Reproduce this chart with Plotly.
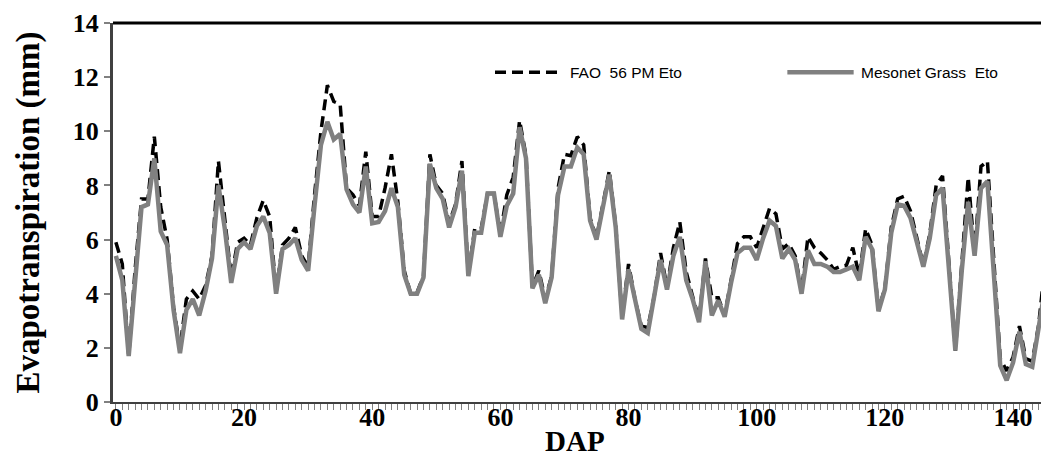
import plotly.graph_objects as go

dap = list(range(0, 147))

fao_56_pm_eto = [
    5.9, 5.1, 1.7, 4.9, 7.5, 7.5, 9.8, 7.2, 6.0, 3.5,
    2.0, 3.8, 4.1, 3.8, 4.3, 5.4, 8.9, 6.8, 4.6, 5.9,
    6.05, 5.8, 6.8, 7.45, 6.85, 4.05, 5.8, 6.05, 6.45, 5.4,
    5.0, 7.65, 10.0, 11.7, 11.1, 11.0, 7.9, 7.65, 7.25, 9.25,
    6.85, 6.85, 7.9, 9.15, 7.4, 4.85, 4.0, 4.05, 4.65, 9.15,
    8.0, 7.7, 6.6, 7.3, 8.9, 4.7, 6.4, 6.4, 7.7, 7.7,
    6.2, 7.65, 8.3, 10.4, 9.1, 4.25, 4.85, 3.8, 4.65, 7.9,
    9.15, 9.1, 9.8, 9.5, 6.8, 6.05, 7.25, 8.55, 6.5, 3.15,
    5.1, 3.8, 2.8, 2.75, 3.9, 5.5, 4.25, 5.7, 6.65, 4.8,
    3.9, 3.05, 5.3, 3.85, 3.85, 3.2, 4.5, 5.85, 6.1, 6.1,
    5.7, 6.45, 7.15, 6.95, 5.65, 5.85, 5.4, 4.1, 6.1, 5.7,
    5.5, 5.25, 4.9, 5.0, 5.05, 5.7, 4.65, 6.4, 5.8, 3.4,
    4.2, 6.45, 7.5, 7.6, 7.05, 6.05, 5.05, 6.2, 8.0, 8.35,
    4.9, 1.9, 5.1, 8.3, 5.5, 8.7, 8.9, 5.0, 1.6, 1.15,
    1.65, 2.8, 1.6, 1.5, 2.85, 5.1, 4.2,
]

mesonet_grass_eto = [
    5.4, 4.5, 1.7, 4.6, 7.2, 7.3, 9.0, 6.3, 5.8, 3.4,
    1.8, 3.4, 3.8, 3.2, 4.1, 5.3, 8.0, 6.4, 4.4, 5.65,
    5.9, 5.65, 6.5, 6.85, 6.25, 4.0, 5.65, 5.8, 6.05, 5.25,
    4.85, 7.25, 9.5, 10.35, 9.7, 9.9, 7.85, 7.3, 7.0, 8.7,
    6.6, 6.65, 7.05, 7.9, 7.2, 4.7, 4.0, 4.0, 4.6, 8.8,
    7.9, 7.5, 6.45, 7.2, 8.55, 4.65, 6.25, 6.25, 7.7, 7.7,
    6.1, 7.25, 7.7, 10.15, 9.0, 4.2, 4.7, 3.65, 4.6, 7.65,
    8.7, 8.7, 9.4, 9.15, 6.7, 6.0, 7.2, 8.4, 6.45, 3.05,
    4.9, 3.75, 2.7, 2.55, 3.8, 5.25, 4.15, 5.4, 6.1, 4.5,
    3.8, 2.95, 5.2, 3.2, 3.75, 3.15, 4.4, 5.5, 5.7, 5.7,
    5.25, 6.05, 6.7, 6.5, 5.3, 5.65, 5.25, 4.0, 5.6, 5.1,
    5.1, 5.0, 4.8, 4.8, 4.9, 5.0, 4.5, 6.1, 5.65, 3.35,
    4.15, 6.25, 7.3, 7.25, 6.8, 5.85, 5.0, 6.05, 7.65, 7.9,
    4.8, 1.9, 4.85, 7.4, 5.4, 7.9, 8.15, 4.8, 1.35, 0.8,
    1.45, 2.6, 1.4, 1.3, 2.75, 4.2, 3.4,
]

series_names = ["FAO  56 PM Eto", "Mesonet Grass  Eto"]
x_tick_vals = [0, 20, 40, 60, 80, 100, 120, 140]
y_tick_vals = [0, 2, 4, 6, 8, 10, 12, 14]

fig = go.Figure()
fig.add_trace(go.Scatter(
    x=dap, y=fao_56_pm_eto, mode="lines", name=series_names[0],
    line=dict(color="black", width=3.5, dash="11px,6px"),
    showlegend=False,
))
fig.add_trace(go.Scatter(
    x=dap, y=mesonet_grass_eto, mode="lines", name=series_names[1],
    line=dict(color="#808080", width=4.5),
    showlegend=False,
))

tick_font = dict(family="Liberation Serif", size=26, color="black", weight="bold")

# page body has an 8px margin; figure size/margins compensate for it
fig.update_layout(
    width=1041, height=454,
    margin=dict(l=105, r=2, t=15, b=60),
    paper_bgcolor="white", plot_bgcolor="white",
    xaxis=dict(
        range=[-0.45, 145.3], tickvals=x_tick_vals,
        ticks="outside", ticklen=6, tickcolor="#808080", tickwidth=1,
        minor=dict(dtick=1, ticks="outside", ticklen=6, tickcolor="#808080", tickwidth=1),
        showline=True, linecolor="#404040", linewidth=2,
        showgrid=False, zeroline=False,
        tickfont=tick_font, automargin=False,
        ticklabelstandoff=-15, ticklabeloverflow="allow",
    ),
    yaxis=dict(
        range=[0, 14], tickvals=y_tick_vals,
        ticks="outside", ticklen=6, tickcolor="#808080", tickwidth=2,
        showline=True, linecolor="#404040", linewidth=3,
        showgrid=False, zeroline=False,
        tickfont=tick_font, automargin=False,
        ticklabeloverflow="allow",
    ),
)

# axis titles
fig.add_annotation(xref="paper", yref="paper", x=-0.091, y=0.5, xanchor="center", yanchor="middle",
                   text="Evapotranspiration (mm)", textangle=-90, showarrow=False,
                   font=dict(family="Liberation Serif", size=33, color="black", weight="bold"))
fig.add_annotation(xref="paper", yref="paper", x=0.4946, y=-0.1035, xanchor="center", yanchor="middle",
                   text="DAP", showarrow=False,
                   font=dict(family="Liberation Serif", size=29, color="black", weight="bold"))

# top border of plot area
fig.add_shape(type="line", xref="paper", yref="paper", x0=0, x1=1, y0=1, y1=1,
              line=dict(color="black", width=3))

# legend (manual)
fig.add_shape(type="line", xref="paper", yref="paper", x0=0.409, x1=0.481, y0=0.87, y1=0.87,
              line=dict(color="black", width=3.5, dash="11px,6px"))
fig.add_annotation(xref="paper", yref="paper", x=0.487, y=0.87, xanchor="left", yanchor="middle",
                   text=series_names[0], showarrow=False,
                   font=dict(family="Liberation Sans", size=15.5, color="black"))
fig.add_shape(type="line", xref="paper", yref="paper", x0=0.722, x1=0.793, y0=0.87, y1=0.87,
              line=dict(color="#808080", width=4.5))
fig.add_annotation(xref="paper", yref="paper", x=0.799, y=0.87, xanchor="left", yanchor="middle",
                   text=series_names[1], showarrow=False,
                   font=dict(family="Liberation Sans", size=15.5, color="black"))

fig.write_html("out.html")
